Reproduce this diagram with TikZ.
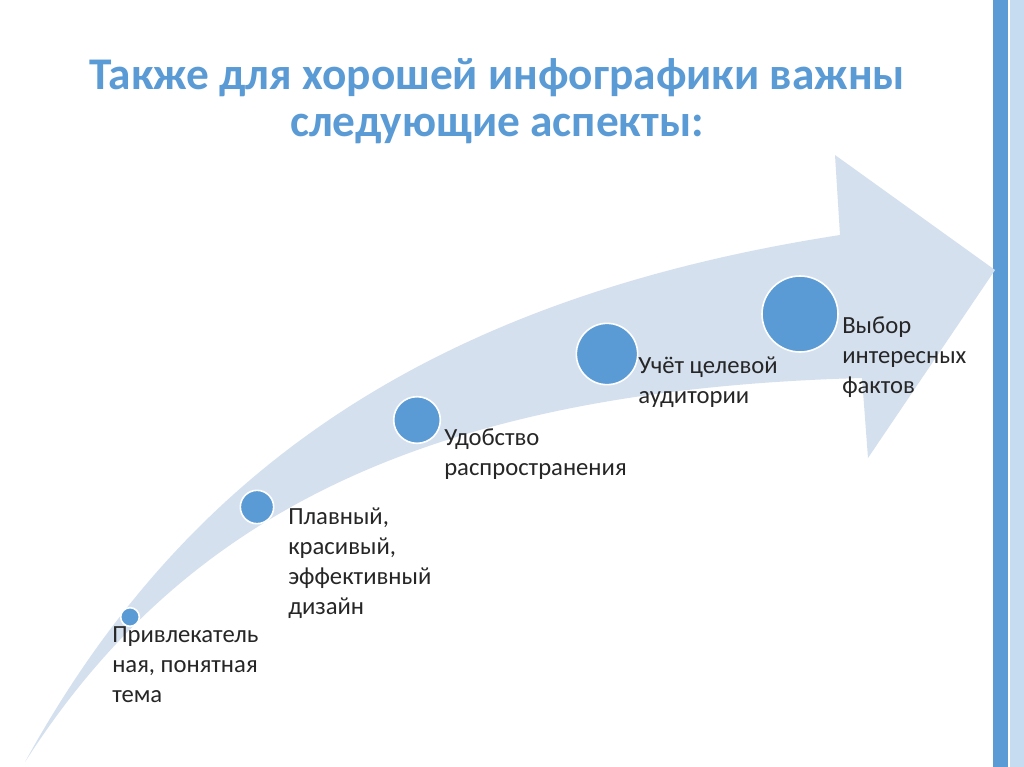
\documentclass[tikz,border=0pt]{standalone}
\usepackage{fontspec}
\setmainfont{Carlito}
\definecolor{ttl}{HTML}{5A9BD5}
\definecolor{arr}{HTML}{D5E0EF}
\definecolor{dot}{HTML}{5B9BD5}
\tikzset{
  dotc/.style={circle,fill=dot,draw=white,line width=1.2pt,inner sep=0pt},
  lbl/.style={anchor=north west,align=left,font=\fontsize{18.5}{22.5}\selectfont,inner sep=0pt,text=black!85}
}
\begin{document}
\begin{tikzpicture}[x=0.75pt,y=-0.75pt]
\useasboundingbox (0,0) rectangle (1024,767);
\fill[white] (0,0) rectangle (1024,767);
\fill[dot] (993,0) rectangle (1008,767);
\fill[dot!35] (1010,0) rectangle (1024,767);
\node[font=\bfseries\fontsize{34}{35}\selectfont,text=ttl,align=center] (title) at (497,101) {Также для хорошей инфографики важны\\следующие аспекты:};
\fill[arr] (25,762) .. controls (180,480) and (420,300) .. (840,235)
  -- (835,155) -- (995,270) -- (868,458) -- (862,378)
  .. controls (420,390) and (180,520) .. cycle;
\node[dotc,minimum size=14pt] (c1) at (130,617) {};
\node[dotc,minimum size=25pt] (c2) at (257,507) {};
\node[dotc,minimum size=35pt] (c3) at (417,420) {};
\node[dotc,minimum size=46pt] (c4) at (607,354) {};
\node[dotc,minimum size=57pt] (c5) at (800,314) {};
\node[lbl] (t1) at (112,626) {Привлекатель\\ная, понятная\\тема};
\node[lbl] (t2) at (288,508) {Плавный,\\красивый,\\эффективный\\дизайн};
\node[lbl] (t3) at (444,428) {Удобство\\распространения};
\node[lbl] (t4) at (638,357) {Учёт целевой\\аудитории};
\node[lbl] (t5) at (842,316) {Выбор\\интересных\\фактов};
\end{tikzpicture}
\end{document}
